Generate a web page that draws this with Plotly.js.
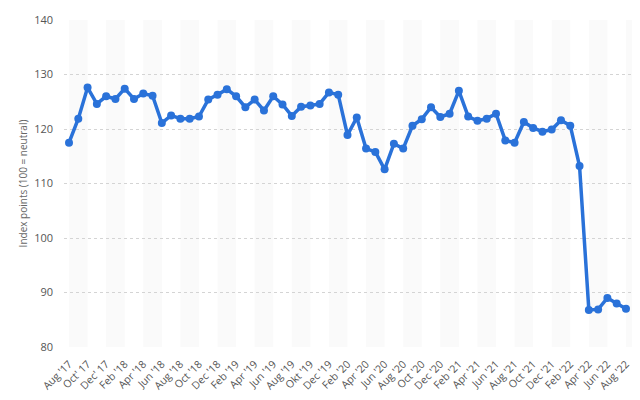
<!DOCTYPE html>
<html>
<head>
<meta charset="utf-8">
<script src="https://cdn.plot.ly/plotly-3.0.1.min.js"></script>
<style>html,body{margin:0;padding:0;background:#fff;}#chart{width:640px;height:400px;}</style>
</head>
<body>
<div id="chart"></div>
<script>
const months = ["Aug '17","Sep '17","Oct '17","Nov '17","Dec '17","Jan '18","Feb '18","Mar '18","Apr '18","May '18","Jun '18","Jul '18",
"Aug '18","Sep '18","Oct '18","Nov '18","Dec '18","Jan '19","Feb '19","Mar '19","Apr '19","May '19","Jun '19","Jul '19",
"Aug '19","Sep '19","Oct '19","Nov '19","Dec '19","Jan '20","Feb '20","Mar '20","Apr '20","May '20","Jun '20","Jul '20",
"Aug '20","Sep '20","Oct '20","Nov '20","Dec '20","Jan '21","Feb '21","Mar '21","Apr '21","May '21","Jun '21","Jul '21",
"Aug '21","Sep '21","Oct '21","Nov '21","Dec '21","Jan '22","Feb '22","Mar '22","Apr '22","May '22","Jun '22","Jul '22","Aug '22"];
const values = [117.5,121.9,127.6,124.6,126.0,125.5,127.4,125.5,126.5,126.1,121.1,122.5,
121.9,121.9,122.3,125.4,126.3,127.3,126.0,124.0,125.4,123.4,126.0,124.5,
122.4,124.1,124.3,124.6,126.7,126.3,118.9,122.1,116.4,115.8,112.6,117.3,
116.4,120.6,121.8,124.0,122.2,122.8,127.0,122.3,121.5,121.9,122.8,117.9,
117.5,121.3,120.2,119.5,119.9,121.6,120.6,113.2,86.8,86.9,89.0,88.0,87.0];
const tickLabels = ["Aug '17","Oct' 17","Dec' 17","Feb '18","Apr '18","Jun '18","Aug '18","Oct '18","Dec '18",
"Feb '19","Apr '19","Jun '19","Aug '19","Okt '19","Dec '19","Feb '20","Apr '20","Jun '20","Aug '20","Oct '20","Dec '20",
"Feb '21","Apr '21","Jun '21","Aug '21","Oct '21","Dec '21","Feb '22","Apr '22","Jun '22","Aug '22"];
const yTicks = [80,90,100,110,120,130,140];

const xIdx = months.map((m,i)=>i);
const tickVals = tickLabels.map((t,i)=>i*2);

const shapes = [];
for (let k = 0; k < months.length; k += 4) {
  shapes.push({type:'rect', xref:'x', yref:'paper', x0:k, x1:k+2, y0:0, y1:1,
    fillcolor:'#fafafa', line:{width:0}, layer:'below'});
}

const trace = {
  x: xIdx, y: values, text: months, type:'scatter', mode:'lines+markers',
  line:{color:'#2a72d9', width:3.5},
  marker:{color:'#2a72d9', size:8},
  hoverinfo:'text+y'
};

const layout = {
  width:640, height:400,
  margin:{l:64, r:8, t:20, b:53},
  paper_bgcolor:'#ffffff', plot_bgcolor:'#ffffff',
  showlegend:false,
  shapes: shapes,
  font:{family:'"Open Sans", sans-serif', color:'#555'},
  xaxis:{
    range:[-0.54, 60.65], tickmode:'array', tickvals:tickVals, ticktext:tickLabels,
    tickangle:-45, showgrid:false, zeroline:false, showline:false, ticks:'',
    ticklabelstandoff:8,
    tickfont:{size:10.5, color:'#555'}
  },
  yaxis:{
    range:[80,140], tickmode:'array', tickvals:yTicks, ticktext:yTicks.map(String),
    showgrid:true, gridcolor:'#d4d4d4', griddash:'dot', gridwidth:1, zeroline:false,
    showline:false, ticks:'', tickfont:{size:11, color:'#555'},
    ticklabelstandoff:10,
    title:{text:'Index points (100 = neutral)', font:{size:10, color:'#666'}, standoff:4}
  }
};

Plotly.newPlot('chart', [trace], layout, {displayModeBar:false, staticPlot:true});
</script>
</body>
</html>
